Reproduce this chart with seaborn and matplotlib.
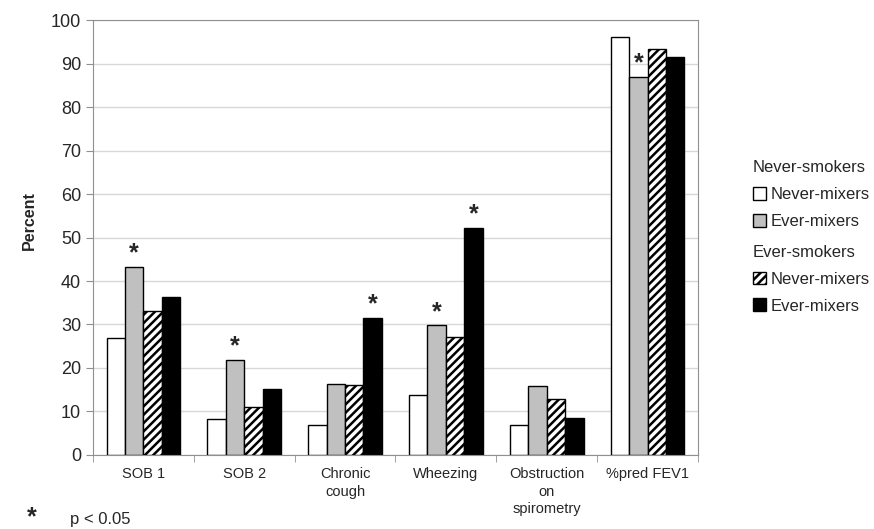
import pandas as pd
import numpy as np
import matplotlib
matplotlib.use("Agg")
import matplotlib.pyplot as plt
import seaborn as sns
from matplotlib.patches import Patch

# данные
categories = ["SOB 1", "SOB 2", "Chronic\ncough", "Wheezing",
              "Obstruction\non\nspirometry", "%pred FEV1"]
groups = ["NS never-mixers", "NS ever-mixers", "ES never-mixers", "ES ever-mixers"]
ns_never = [26.8, 8.3, 7.0, 13.7, 6.9, 96.1]
ns_ever = [43.3, 21.9, 16.3, 29.8, 15.9, 86.9]
es_never = [33.0, 11.0, 16.1, 27.1, 12.8, 93.3]
es_ever = [36.4, 15.2, 31.5, 52.2, 8.4, 91.5]
# звёздочки (p < 0.05): (группа, категория)
stars = [(1, 0), (1, 1), (3, 2), (1, 3), (3, 3), (1, 5)]

sns.set_style("white")
plt.rcParams["font.family"] = ["Liberation Sans", "DejaVu Sans"]
plt.rcParams["hatch.linewidth"] = 1.8

df = pd.DataFrame({
    "category": categories * 4,
    "group": np.repeat(groups, len(categories)),
    "value": ns_never + ns_ever + es_never + es_ever,
})

fig = plt.figure(figsize=(8.74, 5.29), dpi=100)
ax = fig.add_axes([0.1064, 0.140, 0.6922, 0.822])

palette = ["white", "#c0c0c0", "white", "black"]
sns.barplot(data=df, x="category", y="value", hue="group", order=categories,
            hue_order=groups, palette=palette, width=0.73, gap=0,
            edgecolor="black", linewidth=1.0, legend=False, ax=ax)

for bar in ax.containers[2]:
    bar.set_hatch("////")

for g, c in stars:
    bar = ax.containers[g][c]
    ax.text(bar.get_x() + bar.get_width() / 2, bar.get_height() + 0.3, "*",
            ha="center", va="bottom", fontsize=18, fontweight="bold")

ax.set_ylim(0, 100)
ax.set_xlim(-0.5, 5.5)
ax.set_yticks(range(0, 101, 10))
ax.yaxis.grid(True, color="#d8d8d8", linewidth=1)
ax.set_axisbelow(True)
for s in ax.spines.values():
    s.set_color("#909090")
ax.tick_params(axis="y", labelsize=13, length=5, color="#909090", left=True)
ax.tick_params(axis="x", which="major", labelsize=10.5, length=0, pad=9)
for lbl in ax.get_xticklabels():
    lbl.set_linespacing(1.3)
ax.set_xticks(np.arange(-0.5, 6, 1), minor=True)
ax.tick_params(axis="x", which="minor", length=5, color="#909090", bottom=True)
ax.set_xlabel("")
ax.set_ylabel("Percent", fontsize=11.5, fontweight="bold")
ax.yaxis.set_label_coords(-0.093, 0.54)

# легенда из двух блоков
h1 = [Patch(facecolor="white", edgecolor="black"),
      Patch(facecolor="#c0c0c0", edgecolor="black")]
h2 = [Patch(facecolor="white", edgecolor="black", hatch="////"),
      Patch(facecolor="black", edgecolor="black")]
lkw = dict(frameon=False, fontsize=12, title_fontsize=12, alignment="left",
           handlelength=0.8, handleheight=0.8, handletextpad=0.3,
           borderpad=0, borderaxespad=0, labelspacing=0.7, loc="upper left")
fig.legend(h1, ["Never-mixers", "Ever-mixers"], title="Never-smokers",
           bbox_to_anchor=(0.861, 0.697), **lkw)
fig.legend(h2, ["Never-mixers", "Ever-mixers"], title="Ever-smokers",
           bbox_to_anchor=(0.861, 0.537), **lkw)

# сноска внизу
fig.text(0.031, 0.0, "*", fontsize=18, fontweight="bold", va="bottom")
fig.text(0.080, 0.004, "p < 0.05", fontsize=12, va="bottom")

fig.savefig("out.png", dpi=100)
